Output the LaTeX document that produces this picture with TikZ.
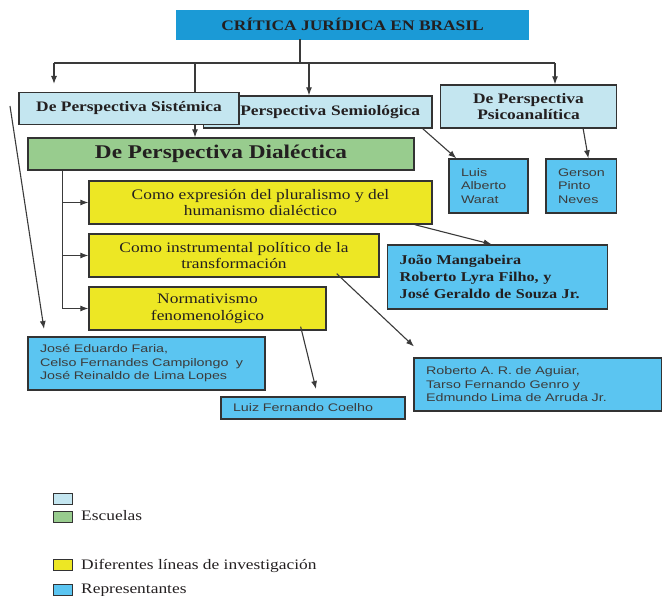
\documentclass[tikz,border=0pt]{standalone}
\usepackage{fontspec}
\setmainfont{Liberation Serif}[FakeStretch=1.2]
\setsansfont{Liberation Sans}[FakeStretch=1.3]
\usetikzlibrary{arrows.meta}

\definecolor{azultitulo}{HTML}{1B9AD6}
\definecolor{celeste}{HTML}{C4E6F0}
\definecolor{verde}{HTML}{98CC8E}
\definecolor{amarillo}{HTML}{EDE724}
\definecolor{azulautor}{HTML}{5BC5F1}
\definecolor{borde}{HTML}{333333}
\definecolor{linea}{HTML}{3A3A3A}
\definecolor{tinta}{HTML}{231F20}
\definecolor{gristexto}{HTML}{3C3C3C}

\newcommand{\letranormal}{\fontsize{14.5}{16.7}\selectfont}
\newcommand{\letragrande}{\fontsize{19.4}{22}\selectfont\bfseries}
\newcommand{\letraautor}{\sffamily\fontsize{11}{13.5}\selectfont}

\pgfdeclarelayer{background}
\pgfsetlayers{background,main}

\tikzset{
  caja/.style={draw=borde, line width=1.3pt, inner sep=2pt, text=tinta},
  titulo/.style={fill=azultitulo, draw=azultitulo, inner sep=2pt, text=tinta, font=\letranormal\bfseries},
  perspectiva/.style={caja, fill=celeste, font=\letranormal\bfseries, align=center},
  escuela/.style={caja, fill=verde, font=\letragrande},
  lineainv/.style={caja, fill=amarillo, font=\letranormal, align=center},
  autor/.style={caja, fill=azulautor, text=gristexto, font=\letraautor, align=left, inner xsep=12pt},
  leyenda/.style={draw=borde, line width=1pt, minimum width=19pt, minimum height=11pt, inner sep=0pt},
  conector/.style={draw=linea, line width=1.1pt},
  flecha/.style={conector, -{Latex[length=8pt,width=6pt]}}
}

\begin{document}
\begin{tikzpicture}[x=1pt,y=-1pt]
	\useasboundingbox (0,0) rectangle (662,596);

	% escuelas
	\node (titulo)[titulo, minimum width=352pt, minimum height=29pt] at (352.6,24.5) {CRÍTICA JURÍDICA EN BRASIL};
	\node (semio)[perspectiva, text width=204.5pt, align=right, inner xsep=12pt, minimum height=32pt] at (317.8,112) {Perspectiva Semiológica};
	\node (sist)[perspectiva, minimum width=220pt, minimum height=32pt] at (129,108.4) {De Perspectiva Sistémica};
	\node (psico)[perspectiva, minimum width=176pt, minimum height=43pt] at (528.5,106.5) {De Perspectiva\\Psicoanalítica};
	\node (dial)[escuela, minimum width=386pt, minimum height=32pt] at (221,154) {De Perspectiva Dialéctica};

	% lineas de investigacion
	\node (y1)[lineainv, minimum width=343pt, minimum height=43pt] at (260.5,202.5) {Como expresión del pluralismo y del\\humanismo dialéctico};
	\node (y2)[lineainv, minimum width=290pt, minimum height=43pt] at (234,255.5) {Como instrumental político de la\\transformación};
	\node (y3)[lineainv, minimum width=237pt, minimum height=43pt] at (207.5,308.5) {Normativismo\\fenomenológico};

	% representantes
	\node (luis)[autor, text width=55pt, minimum height=54pt] at (488.5,186) {Luis\\Alberto\\Warat};
	\node (gerson)[autor, text width=46.6pt, minimum height=54pt] at (581.3,186) {Gerson\\Pinto\\Neves};
	\node (joao)[autor, text=tinta, font=\fontsize{13.5}{16.7}\selectfont\bfseries, text width=196pt, minimum height=64pt] at (497.7,277) {João Mangabeira\\Roberto Lyra Filho, y\\José Geraldo de Souza Jr.};
	\node (faria)[autor, text width=213pt, minimum height=53pt] at (146.5,363.5) {José Eduardo Faria,\\Celso Fernandes Campilongo\ \ y\\José Reinaldo de Lima Lopes};
	\node (roberto)[autor, text width=223.7pt, minimum height=53pt] at (537.9,384.5) {Roberto A. R. de Aguiar,\\Tarso Fernando Genro y\\Edmundo Lima de Arruda Jr.};
	\node (luiz)[autor, text width=160pt, minimum height=22pt, inner ysep=1pt] at (313,408) {Luiz Fernando Coelho};

	% puntos del bus y extremos libres
	\coordinate (busIzq) at (54,63);
	\coordinate (busDial) at (195,63);
	\coordinate (busCentro) at (300,63);
	\coordinate (busSemio) at (309,63);
	\coordinate (busDer) at (555,63);
	\coordinate (sistPunta) at (54,84);
	\coordinate (tronco) at (62.5,0);
	\coordinate (sistPie) at (10,106);
	\coordinate (fariaPunta) at (44,329);
	\coordinate (robertoPunta) at (414,346.5);
	\coordinate (luizPunta) at (316,389);

	\begin{pgfonlayer}{background}
		\draw[flecha] (busDial) -- (busDial |- dial.north);
	\end{pgfonlayer}
	\draw[conector] (busCentro |- titulo.south) -- (busCentro);
	\draw[conector] (busIzq) -- (busDer);
	\draw[flecha] (busIzq) -- (sistPunta);
	\draw[flecha] (busSemio) -- (busSemio |- semio.north);
	\draw[flecha] (busDer) -- (busDer |- psico.north);

	\draw[flecha] (tronco |- dial.south) |- (y3.west);
	\draw[flecha] (tronco |- y1.west) -- (y1.west);
	\draw[flecha] (tronco |- y2.west) -- (y2.west);

	\draw[flecha] ([xshift=-10pt]semio.south east) -- ([xshift=8pt]luis.north west);
	\draw[flecha] ([xshift=-34pt]psico.south east) -- ([xshift=43pt]gerson.north west);
	\draw[flecha] ([xshift=-18pt]y1.south east) -- ([xshift=-6pt]joao.north);
	\draw[flecha] ([xshift=-43pt,yshift=4pt]y2.south east) -- (robertoPunta);
	\draw[flecha] ([xshift=-26pt,yshift=4pt]y3.south east) -- (luizPunta);
	\draw[flecha] (sistPie) -- (fariaPunta);

	% leyenda
	\node (leyA)[leyenda, fill=celeste] at (62.8,498.5) {};
	\node (leyB)[leyenda, fill=verde] at (62.8,517.2) {};
	\node (leyC)[leyenda, fill=amarillo] at (62.8,564.5) {};
	\node (leyD)[leyenda, fill=azulautor] at (62.8,589.5) {};
	\node (txtB)[anchor=base west, inner sep=0pt, text=tinta, font=\letranormal] at (81,520.7) {Escuelas};
	\node (txtC)[anchor=base west, inner sep=0pt, text=tinta, font=\letranormal] at (81,569.3) {Diferentes líneas de investigación};
	\node (txtD)[anchor=base west, inner sep=0pt, text=tinta, font=\letranormal] at (81,593.3) {Representantes};
\end{tikzpicture}
\end{document}
